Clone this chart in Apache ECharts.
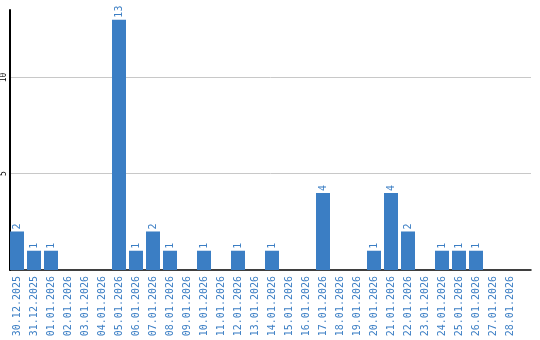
<!DOCTYPE html>
<html><head><meta charset="utf-8">
<script src="https://cdn.jsdelivr.net/npm/echarts@6/dist/echarts.min.js"></script>
<style>html,body{margin:0;padding:0;background:#fff}#c{width:540px;height:340px}</style>
</head><body><div id="c"></div>
<script>
const categories = ['30.12.2025','31.12.2025','01.01.2026','02.01.2026','03.01.2026','04.01.2026','05.01.2026','06.01.2026','07.01.2026','08.01.2026','09.01.2026','10.01.2026','11.01.2026','12.01.2026','13.01.2026','14.01.2026','15.01.2026','16.01.2026','17.01.2026','18.01.2026','19.01.2026','20.01.2026','21.01.2026','22.01.2026','23.01.2026','24.01.2026','25.01.2026','26.01.2026','27.01.2026','28.01.2026'];
const values = [2,1,1,0,0,0,13,1,2,1,0,1,0,1,0,1,0,0,4,0,0,1,4,2,0,1,1,1,0,0];
const yMax = 13.5;
const yInterval = 5;

const blue = '#3b7ec4';
const chart = echarts.init(document.getElementById('c'), null, {renderer:'canvas'});
chart.setOption({
  animation: false,
  backgroundColor: '#fff',
  grid: [
    {left: 10, right: 9, top: 10, bottom: 70},
    {left: 8.5, right: 21.5, top: 10, bottom: 70}
  ],
  xAxis: [
    {gridIndex: 0, type: 'value', min: 0, max: 1, axisLabel: {show: false}, axisTick: {show: false}, splitLine: {show: false},
     axisLine: {show: true, onZero: false, lineStyle: {color: '#000', width: 1.5}}},
    {gridIndex: 1, type: 'category', data: categories, axisLine: {show: false}, axisTick: {show: false},
     axisLabel: {interval: 0, rotate: 90, margin: 6, color: blue, fontFamily: 'DejaVu Sans Mono', fontSize: 10}}
  ],
  yAxis: [
    {gridIndex: 0, type: 'value', min: 0, max: yMax, interval: yInterval,
     axisLine: {show: true, lineStyle: {color: '#000', width: 2}}, axisTick: {show: false},
     axisLabel: {rotate: 90, margin: 2, color: '#000', fontFamily: 'DejaVu Sans Mono', fontSize: 8, showMaxLabel: false,
       formatter: v => (v === 0 ? '' : String(v))},
     splitLine: {show: true, showMinLine: false, showMaxLine: false, lineStyle: {color: '#c8c8c8', width: 1}}},
    {gridIndex: 1, type: 'value', min: 0, max: yMax, interval: yInterval, show: false, splitLine: {show: false}}
  ],
  series: [{
    type: 'bar', xAxisIndex: 1, yAxisIndex: 1, data: values, barWidth: 14,
    itemStyle: {color: blue},
    label: {show: true, position: 'top', rotate: 90, align: 'left', verticalAlign: 'middle', distance: 2,
      color: blue, fontFamily: 'DejaVu Sans Mono', fontSize: 10,
      formatter: p => (p.value ? String(p.value) : '')}
  }]
});
</script></body></html>
